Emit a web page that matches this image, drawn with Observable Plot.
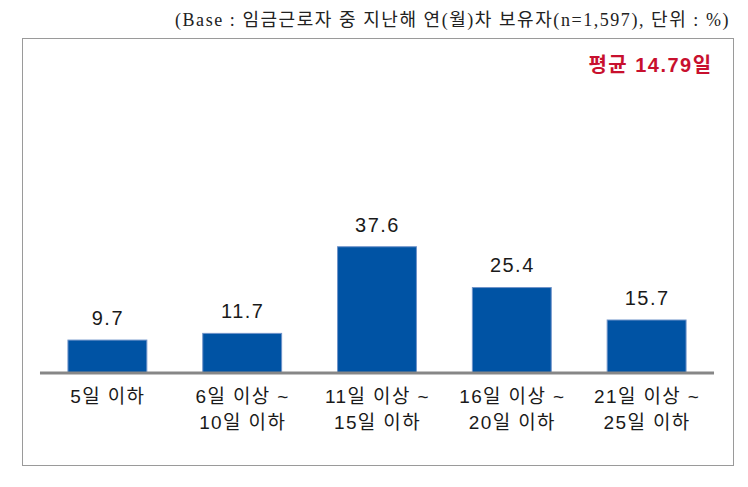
<!DOCTYPE html>
<html><head><meta charset="utf-8">
<script src="https://cdn.jsdelivr.net/npm/d3@7"></script>
<script src="https://cdn.jsdelivr.net/npm/@observablehq/plot@0.6"></script>
<style>
body{margin:0;background:#fff;width:748px;height:487px;position:relative;overflow:hidden}
#title{position:absolute;right:18px;top:5px;font-family:"Liberation Serif","Noto Sans CJK KR",serif;font-size:18px;letter-spacing:1.55px;color:#222;white-space:nowrap}
#box{position:absolute;left:22px;top:38px;width:712px;height:428px;border:1px solid #9a9a9a;box-sizing:border-box}
#chart{position:absolute;left:-1px;top:-1px}
</style></head><body>
<div id="title">(Base : 임금근로자 중 지난해 연(월)차 보유자(n=1,597), 단위 : %)</div>
<div id="box"><div id="chart"></div></div>
<script>
const categories = ["5일 이하", "6일 이상 ~\n10일 이하", "11일 이상 ~\n15일 이하", "16일 이상 ~\n20일 이하", "21일 이상 ~\n25일 이하"];
const values = [9.7, 11.7, 37.6, 25.4, 15.7];
const average = "평균 14.79일";

const data = categories.map((c, i) => ({category: c, value: values[i]}));
const font = "'Liberation Sans','Noto Sans CJK KR',sans-serif";

const chart = Plot.plot({
  width: 712,
  height: 428,
  marginLeft: 18,
  marginRight: 19,
  marginTop: 0,
  marginBottom: 93,
  style: {fontFamily: font, background: "transparent"},
  x: {domain: categories, paddingInner: 0.415, paddingOuter: 0.2075, label: null},
  y: {domain: [0, 100], axis: null},
  marks: [
    Plot.barY(data, {x: "category", y: "value", fill: "#0053a4", stroke: "#6f93c9", strokeWidth: 1}),
    Plot.ruleY([0], {stroke: "#878787", strokeWidth: 3}),
    Plot.text(data, {x: "category", y: "value", text: d => d.value.toFixed(1), dy: -22, lineAnchor: "middle", fontSize: 20, fill: "#1a1a1a"}),
    Plot.axisX({tickSize: 0, tickPadding: 12, fontSize: 19, lineHeight: 1.37, fill: "#1a1a1a", label: null}),
    Plot.text([average], {frameAnchor: "top-right", dx: -2, dy: 27, lineAnchor: "middle", fontSize: 20, fontWeight: "bold", fill: "#c8102e"})
  ]
});
chart.querySelectorAll("g[aria-label='x-axis tick label'] text").forEach(t => t.style.letterSpacing = "1.4px");
chart.querySelectorAll("g[aria-label='text'] text").forEach(t => t.style.letterSpacing = "1.5px");
document.getElementById("chart").appendChild(chart);
</script>
</body></html>
